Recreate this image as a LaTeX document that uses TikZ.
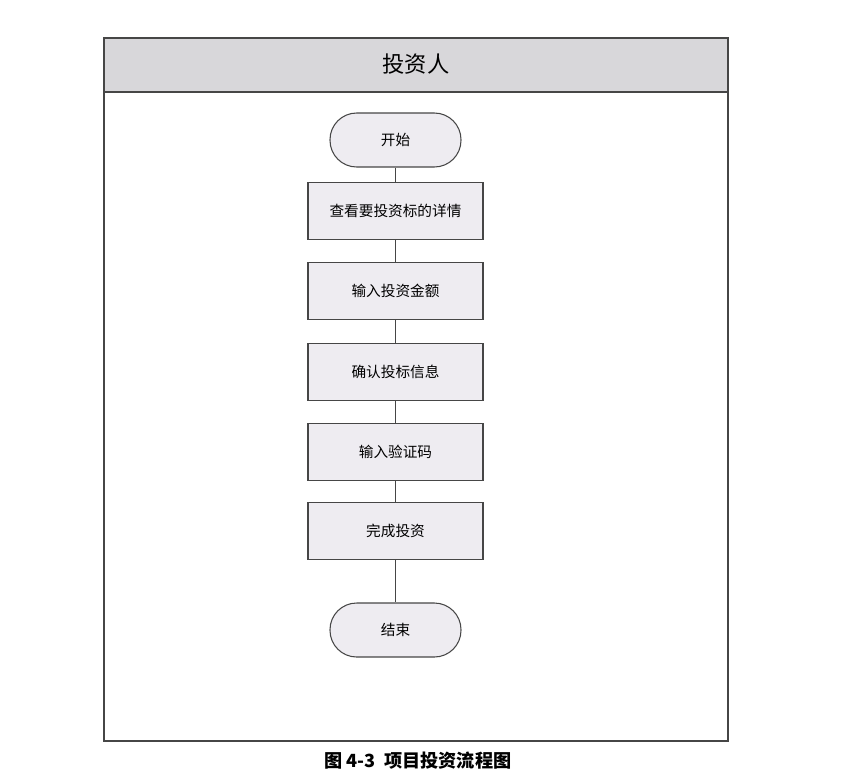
\documentclass[tikz,border=0pt]{standalone}
\usepackage{fontspec}
\setmainfont{Noto Sans CJK SC}
\usepackage{xcolor}
\usepackage{tikz}
\usetikzlibrary{positioning,calc}

\definecolor{bandgray}{RGB}{216,215,218}
\definecolor{boxgray}{RGB}{238,236,241}
\definecolor{linegray}{RGB}{70,70,70}

\tikzset{
  startstop/.style={draw=linegray, line width=0.9pt, fill=boxgray, rounded corners=0.8cm,
    minimum width=3.93cm, minimum height=1.62cm, font=\fontsize{12.5}{15}\selectfont},
  stepbox/.style={draw=linegray, line width=0.9pt, fill=boxgray,
    minimum width=5.25cm, minimum height=1.7cm, font=\fontsize{12.5}{15}\selectfont},
  link/.style={draw=linegray, line width=0.9pt}
}

\begin{document}
\begin{tikzpicture}[x=0.03cm,y=-0.03cm]
        \useasboundingbox (0,0) rectangle (845,772);

        % Swimlane frame and header
        \fill[bandgray] (104,38) rectangle (728,92);
        \draw[linegray, line width=0.9pt] (104,38) rectangle (728,741);
        \draw[linegray, line width=0.9pt] (104,92) -- (728,92);
        \node (lane) at (416,64) {\fontsize{19}{22}\selectfont 投资人};

        % Start
        \node[startstop] (start) at (395.5,140) {开始};

        % Steps
        \node[stepbox] (view) at (395.5,211) {查看要投资标的详情};
        \node[stepbox] (amount) at (395.5,291) {输入投资金额};
        \node[stepbox] (confirm) at (395.5,372) {确认投标信息};
        \node[stepbox] (code) at (395.5,452) {输入验证码};
        \node[stepbox] (done) at (395.5,531) {完成投资};

        % End
        \node[startstop] (stop) at (395.5,630) {结束};

        % Links
        \draw[link] (start) -- (view);
        \draw[link] (view) -- (amount);
        \draw[link] (amount) -- (confirm);
        \draw[link] (confirm) -- (code);
        \draw[link] (code) -- (done);
        \draw[link] (done) -- (stop);

        % Caption
        \node (caption) at (418,761) {\fontsize{15.5}{18}\selectfont\bfseries 图 4-3\ \ 项目投资流程图};

      \end{tikzpicture}
\end{document}
